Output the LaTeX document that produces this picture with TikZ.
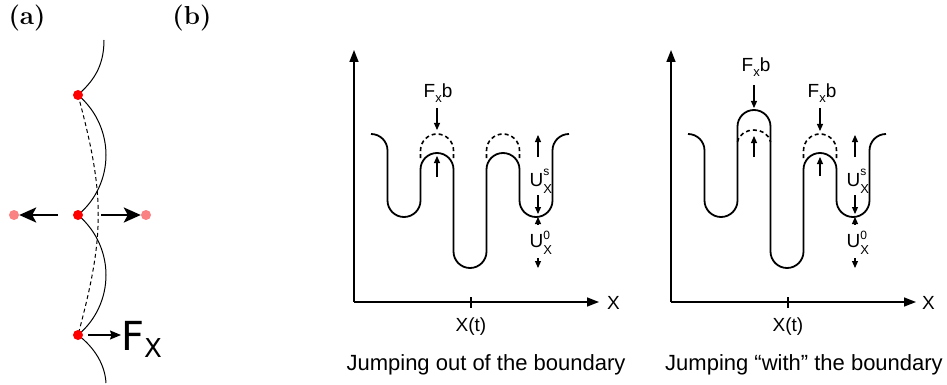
\documentclass[tikz,border=0pt]{standalone}
\usepackage{fontspec}
\newfontfamily\arial{Liberation Sans}
\newfontfamily\dejavu{DejaVu Sans}
\usetikzlibrary{arrows.meta}
\definecolor{dotred}{RGB}{255,0,0}
\definecolor{dotpink}{RGB}{250,130,130}
\begin{document}
\begin{tikzpicture}[x=1pt,y=-1pt,
  pot/.style={line width=1.8pt},
  potdash/.style={line width=1.6pt, dash pattern=on 4pt off 3pt},
  axisline/.style={line width=1.5pt, -{Triangle[length=12pt,width=9pt]}},
  smallarr/.style={line width=1.1pt, -{Triangle[length=7pt,width=6pt]}},
  lbl/.style={font=\arial\fontsize{19}{22}\selectfont, inner sep=0pt},
  caption/.style={font=\arial\fontsize{22}{26}\selectfont, inner sep=0pt},
  panel/.style={font=\fontsize{26}{30}\selectfont\bfseries, inner sep=0pt},
  reddot/.style={circle, fill=dotred, inner sep=0pt, minimum size=10pt},
  pinkdot/.style={circle, fill=dotpink, inner sep=0pt, minimum size=10pt},
  thickarr/.style={line width=2.5pt, -{Stealth[length=17pt,width=15pt,inset=4pt]}},
  thinarr/.style={line width=1.3pt, -{Stealth[length=11pt,width=9pt,inset=1.5pt]}}]
\useasboundingbox (0,0) rectangle (947,385);

% ---------- panel labels
\node[panel] (la) at (27,18) {(a)};
\node[panel] (lb) at (192,18) {(b)};

% ---------- panel (a)
\draw[line width=1pt] (104,40) .. controls (104,68) and (92,82) .. (78,95)
  .. controls (98,112) and (106,135) .. (106,155)
  .. controls (106,178) and (96,200) .. (78,215)
  .. controls (98,232) and (106,255) .. (106,275)
  .. controls (106,298) and (96,320) .. (78,335)
  .. controls (95,348) and (105,365) .. (106,383);
\draw[line width=1pt, dash pattern=on 4pt off 3pt] (78,95) .. controls (105,195) and (105,235) .. (78,335);
\node[reddot] (d1) at (78,95) {};
\node[reddot] (d2) at (78,215) {};
\node[reddot] (d3) at (78,335) {};
\node[pinkdot] (pl) at (14,215) {};
\node[pinkdot] (pr) at (146,215) {};
\coordinate (al0) at (58,215);
\coordinate (ar0) at (101,215);
\draw[thickarr] (al0) -- (pl.east);
\draw[thickarr] (ar0) -- (pr.west);
\node[anchor=base west, inner sep=0pt] (fx) at (121,350)
  {\dejavu\fontsize{40}{40}\selectfont F\raisebox{-7pt}{\fontsize{26}{26}\selectfont X}};
\coordinate (fs) at (88,335);
\draw[thinarr] (fs) -- (fx.west |- fs);

% ---------- left potential plot
\begin{scope}
\coordinate (o) at (354,302);
\coordinate (ytop) at (354,50);
\coordinate (xend) at (599,302);
\draw[axisline] (o) -- (ytop);
\draw[axisline] (o) -- (xend);
\draw[line width=1.2pt] (471,297) -- (471,308);
\node[lbl, anchor=base west] (xl) at (607,309) {X};
\node[lbl, anchor=base] (xt) at (471,331) {X(t)};
\node[caption, anchor=base] (cap) at (486,370) {Jumping out of the boundary};

\draw[pot] (371,134) arc[start angle=270,end angle=360,radius=16.5]
  -- (387.5,200.5) arc[start angle=180,end angle=0,radius=16.5]
  -- (420.5,169.5) arc[start angle=180,end angle=360,radius=16.5]
  -- (453.5,251.5) arc[start angle=180,end angle=0,radius=16.5]
  -- (486.5,169.5) arc[start angle=180,end angle=360,radius=16.5]
  -- (519.5,200.5) arc[start angle=180,end angle=0,radius=16.5]
  -- (552.5,150.5) arc[start angle=180,end angle=270,radius=16.5];
\draw[potdash] (420.5,158) -- (420.5,150.5) arc[start angle=180,end angle=360,radius=16.5] -- (453.5,158);
\draw[potdash] (486.5,158) -- (486.5,150.5) arc[start angle=180,end angle=360,radius=16.5] -- (519.5,158);

\node[lbl, anchor=base] (f1) at (438,98)
  {F\raisebox{-5pt}{\fontsize{13}{13}\selectfont x}b};
\draw[smallarr] (437,108) -- (437,130);
\draw[smallarr] (437,177) -- (437,156);

\node[lbl, anchor=base west] (us) at (529.5,186)
  {U\makebox[0pt][l]{\raisebox{11pt}{\fontsize{12}{12}\selectfont s}}\raisebox{-7pt}{\fontsize{13}{13}\selectfont X}};
\node[lbl, anchor=base west] (u0) at (529.5,247)
  {U\makebox[0pt][l]{\raisebox{8pt}{\fontsize{12}{12}\selectfont 0}}\raisebox{-7pt}{\fontsize{13}{13}\selectfont X}};
\draw[smallarr] (538,157) -- (538,135);
\draw[smallarr] (538,195) -- (538,214);
\draw[smallarr] (538,224) -- (538,217);
\draw[smallarr] (538,258) -- (538,268);
\end{scope}

% ---------- right potential plot
\begin{scope}[xshift=317pt]
\coordinate (o2) at (354,302);
\coordinate (ytop2) at (354,50);
\coordinate (xend2) at (599,302);
\draw[axisline] (o2) -- (ytop2);
\draw[axisline] (o2) -- (xend2);
\draw[line width=1.2pt] (471,297) -- (471,308);
\node[lbl, anchor=base west] (xl2) at (605,309) {X};
\node[lbl, anchor=base] (xt2) at (471,331) {X(t)};
\node[caption, anchor=base] (cap2) at (487,370) {Jumping “with” the boundary};

\draw[pot] (371,134) arc[start angle=270,end angle=360,radius=16.5]
  -- (387.5,200.5) arc[start angle=180,end angle=0,radius=16.5]
  -- (420.5,126.5) arc[start angle=180,end angle=360,radius=16.5]
  -- (453.5,251.5) arc[start angle=180,end angle=0,radius=16.5]
  -- (486.5,169.5) arc[start angle=180,end angle=360,radius=16.5]
  -- (519.5,200.5) arc[start angle=180,end angle=0,radius=16.5]
  -- (552.5,150.5) arc[start angle=180,end angle=270,radius=16.5];
\draw[potdash] (420.5,142) .. controls (423.5,126) and (450.5,126) .. (453.5,142);
\draw[potdash] (486.5,158) -- (486.5,150.5) arc[start angle=180,end angle=360,radius=16.5] -- (519.5,158);

\node[lbl, anchor=base] (f2) at (439,72)
  {F\raisebox{-5pt}{\fontsize{13}{13}\selectfont x}b};
\draw[smallarr] (437,85) -- (437,108);
\draw[smallarr] (437,157) -- (437,136);
\node[lbl, anchor=base] (f3) at (505,98)
  {F\raisebox{-5pt}{\fontsize{13}{13}\selectfont x}b};
\draw[smallarr] (503,108) -- (503,131);
\draw[smallarr] (503,176) -- (503,157);

\node[lbl, anchor=base west] (us2) at (529.5,186)
  {U\makebox[0pt][l]{\raisebox{11pt}{\fontsize{12}{12}\selectfont s}}\raisebox{-7pt}{\fontsize{13}{13}\selectfont X}};
\node[lbl, anchor=base west] (u02) at (529.5,247)
  {U\makebox[0pt][l]{\raisebox{8pt}{\fontsize{12}{12}\selectfont 0}}\raisebox{-7pt}{\fontsize{13}{13}\selectfont X}};
\draw[smallarr] (538,157) -- (538,135);
\draw[smallarr] (538,195) -- (538,214);
\draw[smallarr] (538,224) -- (538,217);
\draw[smallarr] (538,258) -- (538,268);
\end{scope}
\end{tikzpicture}
\end{document}
